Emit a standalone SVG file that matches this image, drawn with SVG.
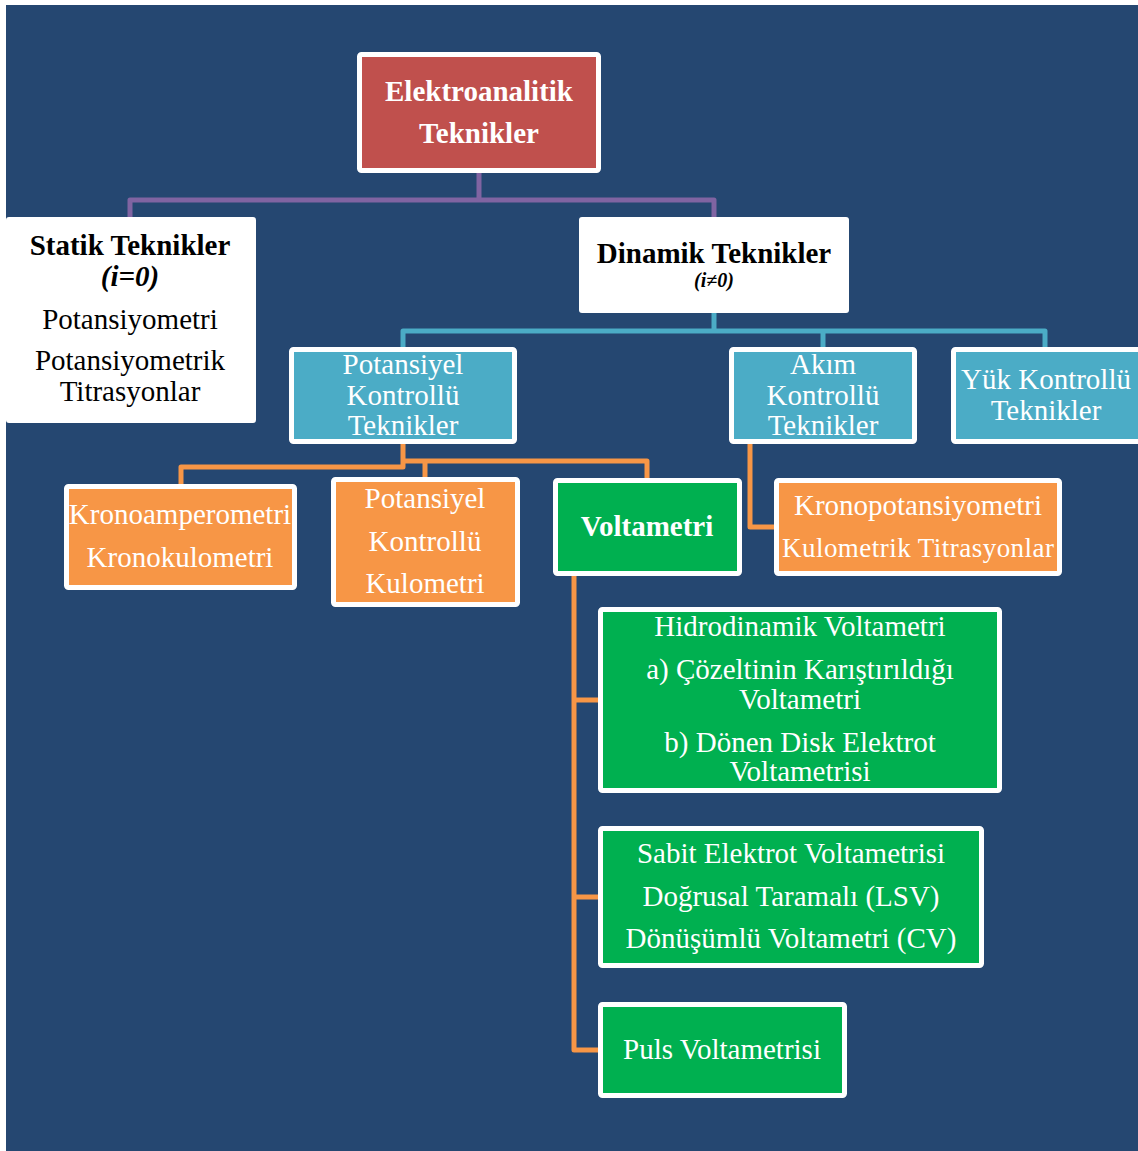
<svg xmlns="http://www.w3.org/2000/svg" width="1138" height="1151" viewBox="0 0 1138 1151">
<style>
.t{font-family:"Liberation Serif","Times New Roman",serif;font-size:29px;text-anchor:middle;fill:#fff}
.b{font-weight:bold}
.i{font-style:italic}
.s20{font-size:20px}.s27{font-size:27px}
.k{fill:#000}
.box{stroke:#fff;stroke-width:5}
.red{fill:#C0504D}.teal{fill:#4BACC6}.org{fill:#F79646}.grn{fill:#00B050}.wht{fill:#fff}
.c{fill:none;stroke-width:5;stroke-linejoin:round}
</style>
<rect width="1138" height="1151" fill="#fff"/>
<rect x="6" y="5" width="1132" height="1146" fill="#254771"/>
<g id="connectors">
<path class="c" stroke="#8064A2" d="M479 173V200M130 219V200H714V219"/>
<path class="c" stroke="#4BACC6" d="M714 313V331M403 349V331H1045V349M823 331V349"/>
<path class="c" stroke="#F79646" d="M403 444V467H181V486M403 461H647V479M425 461V479M750 444V527H776M574 576V1050H600M574 700H600M574 897H600"/>
</g>
<g id="n_elektroanalitik"><rect class="box red" x="359.5" y="54.5" width="239" height="116" rx="2"/>
<text class="t b" x="479" y="101">Elektroanalitik</text><text class="t b" x="479" y="143">Teknikler</text></g>
<g id="n_statik"><rect class="wht" x="6" y="217" width="250" height="206" rx="3"/>
<text class="t b k" x="130" y="255">Statik Teknikler</text>
<text class="t b i k" x="130" y="286">(i=0)</text>
<text class="t k" x="130" y="329">Potansiyometri</text>
<text class="t k" x="130" y="370">Potansiyometrik</text>
<text class="t k" x="130" y="401">Titrasyonlar</text></g>
<g id="n_dinamik"><rect class="wht" x="579" y="217" width="270" height="96" rx="3"/>
<text class="t b k" x="714" y="263">Dinamik Teknikler</text>
<text class="t b i k s20" x="714" y="287">(i≠0)</text></g>
<g id="n_potansiyel"><rect class="box teal" x="291.5" y="349.5" width="223" height="92" rx="2"/>
<text class="t" x="403" y="374">Potansiyel</text><text class="t" x="403" y="405">Kontrollü</text><text class="t" x="403" y="435">Teknikler</text></g>
<g id="n_akim"><rect class="box teal" x="731.5" y="349.5" width="183" height="92" rx="2"/>
<text class="t" x="823" y="374">Akım</text><text class="t" x="823" y="405">Kontrollü</text><text class="t" x="823" y="435">Teknikler</text></g>
<g id="n_yuk"><rect class="box teal" x="953.5" y="349.5" width="190" height="92" rx="2"/>
<text class="t" x="1046" y="389">Yük Kontrollü</text><text class="t" x="1046" y="420">Teknikler</text></g>
<g id="n_kronoamp"><rect class="box org" x="66.5" y="486.5" width="228" height="101" rx="2"/>
<text class="t" x="180" y="524">Kronoamperometri</text><text class="t" x="180" y="567">Kronokulometri</text></g>
<g id="n_pkk"><rect class="box org" x="333.5" y="479.5" width="184" height="125" rx="2"/>
<text class="t" x="425" y="508">Potansiyel</text><text class="t" x="425" y="551">Kontrollü</text><text class="t" x="425" y="593">Kulometri</text></g>
<g id="n_voltametri"><rect class="box grn" x="555.5" y="480.5" width="184" height="93" rx="2"/>
<text class="t b" x="647" y="536">Voltametri</text></g>
<g id="n_kronopot"><rect class="box org" x="776.5" y="480.5" width="283" height="93" rx="2"/>
<text class="t" x="918" y="515">Kronopotansiyometri</text><text class="t s27" x="918" y="557" textLength="272" lengthAdjust="spacing">Kulometrik Titrasyonlar</text></g>
<g id="n_hidro"><rect class="box grn" x="600.5" y="609.5" width="399" height="181" rx="2"/>
<text class="t" x="800" y="636">Hidrodinamik Voltametri</text>
<text class="t" x="800" y="679">a) Çözeltinin Karıştırıldığı</text>
<text class="t" x="800" y="709">Voltametri</text>
<text class="t" x="800" y="752">b) Dönen Disk Elektrot</text>
<text class="t" x="800" y="781">Voltametrisi</text></g>
<g id="n_sabit"><rect class="box grn" x="600.5" y="828.5" width="381" height="137" rx="2"/>
<text class="t" x="791" y="863">Sabit Elektrot Voltametrisi</text>
<text class="t" x="791" y="906">Doğrusal Taramalı (LSV)</text>
<text class="t" x="791" y="948">Dönüşümlü Voltametri (CV)</text></g>
<g id="n_puls"><rect class="box grn" x="600.5" y="1004.5" width="244" height="91" rx="2"/>
<text class="t" x="722" y="1059">Puls Voltametrisi</text></g>
</svg>
